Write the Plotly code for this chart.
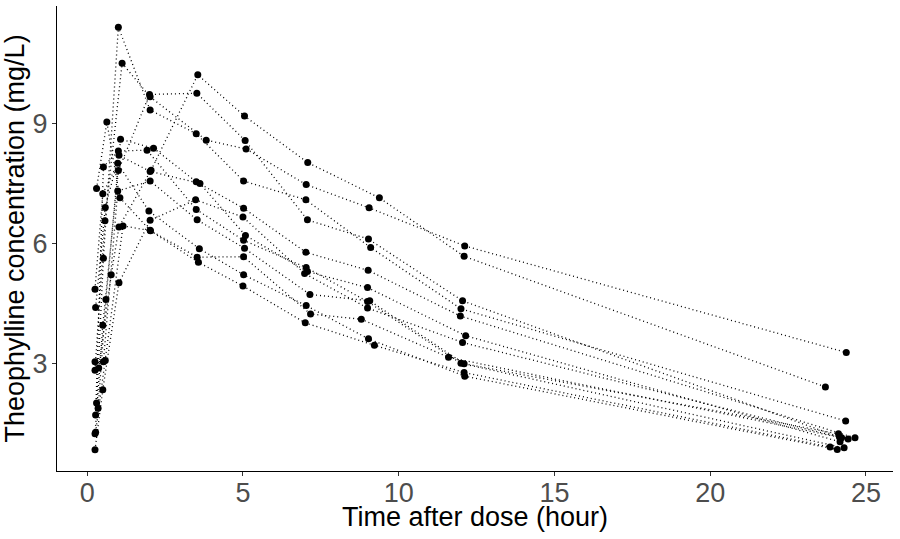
import plotly.graph_objects as go

subjects = ["1", "2", "3", "4", "5", "6", "7", "8", "9", "10", "11", "12"]

time_1 = [0.25, 0.57, 1.12, 2.02, 3.82, 5.10, 7.03, 9.05, 12.12, 24.37]
conc_1 = [2.84, 6.57, 10.50, 9.66, 8.58, 8.36, 7.47, 6.89, 5.94, 3.28]
time_2 = [0.27, 0.52, 1.00, 1.92, 3.50, 5.02, 7.03, 9.00, 12.00, 24.30]
conc_2 = [1.72, 7.91, 8.31, 8.33, 6.85, 6.08, 5.40, 4.55, 3.01, 0.90]
time_3 = [0.27, 0.58, 1.02, 2.02, 3.62, 5.08, 7.07, 9.00, 12.15, 24.17]
conc_3 = [4.40, 6.90, 8.20, 7.80, 7.50, 6.20, 5.30, 4.90, 3.70, 1.05]
time_4 = [0.35, 0.60, 1.07, 2.13, 3.50, 5.02, 7.02, 9.02, 11.98, 24.65]
conc_4 = [1.89, 4.60, 8.60, 8.38, 7.54, 6.88, 5.78, 5.33, 4.19, 1.15]
time_5 = [0.30, 0.52, 1.00, 2.02, 3.50, 5.02, 7.02, 9.10, 12.00, 24.35]
conc_5 = [2.02, 5.63, 11.40, 9.33, 8.74, 7.56, 7.09, 5.90, 4.37, 1.57]
time_6 = [0.27, 0.58, 1.15, 2.03, 3.57, 5.00, 7.00, 9.22, 12.10, 23.85]
conc_6 = [1.29, 3.08, 6.44, 6.32, 5.53, 4.94, 4.02, 3.46, 2.78, 0.92]
time_7 = [0.25, 0.50, 1.02, 2.02, 3.48, 5.00, 6.98, 9.00, 12.05, 24.22]
conc_7 = [0.85, 2.35, 5.02, 6.58, 7.09, 6.66, 5.25, 4.39, 3.53, 1.15]
time_8 = [0.25, 0.52, 0.98, 2.02, 3.53, 5.05, 7.15, 9.07, 12.10, 24.12]
conc_8 = [3.05, 3.05, 7.31, 7.56, 6.59, 5.88, 4.73, 4.57, 3.00, 1.25]
time_9 = [0.30, 0.63, 1.05, 2.02, 3.53, 5.02, 7.17, 8.80, 11.60, 24.43]
conc_9 = [7.37, 9.03, 7.14, 6.33, 5.66, 5.67, 4.24, 4.11, 3.16, 1.12]
time_10 = [0.37, 0.77, 1.02, 2.05, 3.55, 5.05, 7.08, 9.38, 12.10, 23.70]
conc_10 = [2.89, 5.22, 6.41, 7.83, 10.21, 9.18, 8.02, 7.14, 5.68, 2.42]
time_11 = [0.25, 0.50, 0.98, 1.98, 3.60, 5.02, 7.03, 9.03, 12.12, 24.08]
conc_11 = [4.86, 7.24, 8.00, 6.81, 5.87, 5.22, 4.45, 3.62, 2.69, 0.86]
time_12 = [0.25, 0.50, 1.00, 2.00, 3.52, 5.07, 7.07, 9.03, 12.05, 24.15]
conc_12 = [1.25, 3.96, 7.82, 9.72, 9.75, 8.57, 6.59, 6.11, 4.57, 1.17]

times = [time_1, time_2, time_3, time_4, time_5, time_6, time_7, time_8, time_9, time_10, time_11, time_12]
concs = [conc_1, conc_2, conc_3, conc_4, conc_5, conc_6, conc_7, conc_8, conc_9, conc_10, conc_11, conc_12]

x_ticks = [0, 5, 10, 15, 20, 25]
y_ticks = [3, 6, 9]
x_title = "Time after dose (hour)"
y_title = "Theophylline concentration (mg/L)"

fig = go.Figure()
for s, t, c in zip(subjects, times, concs):
    fig.add_trace(go.Scatter(
        x=t, y=c, mode="lines", name=s,
        line=dict(color="black", width=1.3, dash="1px,3px"),
        showlegend=False, hoverinfo="skip"))
for s, t, c in zip(subjects, times, concs):
    fig.add_trace(go.Scatter(
        x=t, y=c, mode="markers", name=s,
        marker=dict(color="black", size=7),
        showlegend=False))

all_x = [v for t in times for v in t]
all_y = [v for c in concs for v in c]
xmin, xmax = min(all_x), max(all_x)
ymin, ymax = min(all_y), max(all_y)
xpad = (xmax - xmin) * 0.05
ypad = (ymax - ymin) * 0.05

axis_common = dict(
    showgrid=False, zeroline=False, showline=True, linecolor="black", linewidth=1.1,
    ticks="outside", ticklen=4, tickwidth=1.1, tickcolor="#333333",
    tickfont=dict(family="Liberation Sans, Arial, sans-serif", size=27, color="#4D4D4D"),
    mirror=False, automargin=False,
)

fig.update_layout(
    width=900, height=539,
    margin=dict(l=57, r=7, t=6, b=68),
    paper_bgcolor="white", plot_bgcolor="white",
    font=dict(family="Liberation Sans, Arial, sans-serif", color="black"),
    xaxis=dict(
        range=[xmin - xpad, xmax + xpad], tickvals=x_ticks, ticktext=[str(v) for v in x_ticks],
        ticklabelstandoff=-6,
        **axis_common),
    yaxis=dict(
        range=[ymin - ypad, ymax + ypad], tickvals=y_ticks, ticktext=[str(v) for v in y_ticks],
        ticklabelstandoff=-1,
        title=dict(text=y_title, font=dict(size=27, color="black"), standoff=4),
        **axis_common),
    annotations=[dict(
        text=x_title, xref="paper", yref="paper", x=0.5, y=0,
        xanchor="center", yanchor="middle", yshift=-46, showarrow=False,
        font=dict(family="Liberation Sans, Arial, sans-serif", size=27, color="black"))],
)

fig.write_html("out.html", config={"displayModeBar": False},
               post_script="document.body.style.margin='0';document.body.style.padding='0';")
